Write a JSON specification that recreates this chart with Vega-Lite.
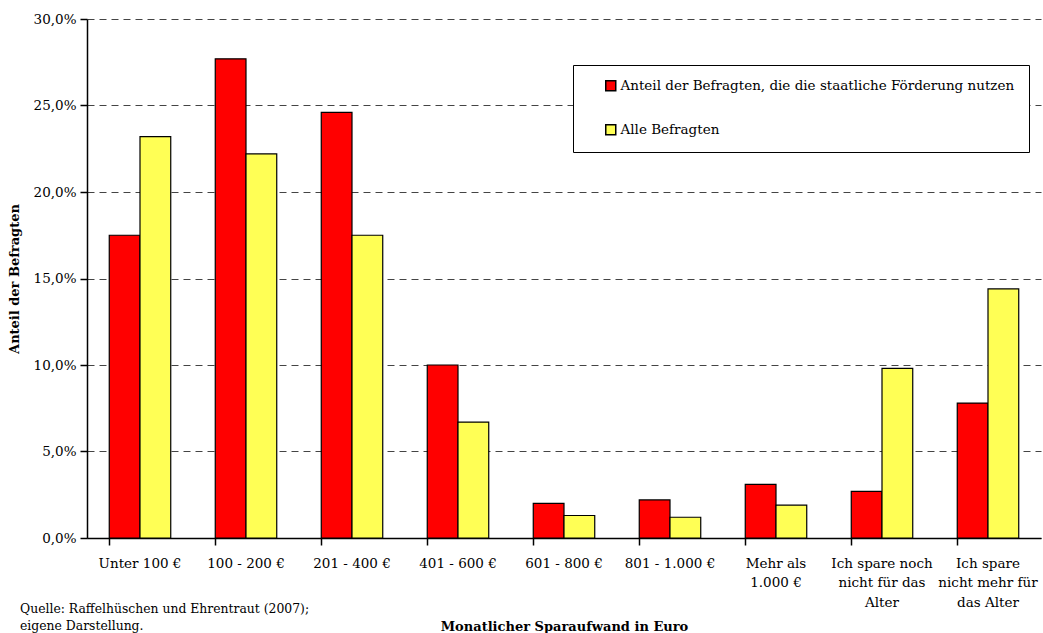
{
  "$schema": "https://vega.github.io/schema/vega-lite/v6.json",
  "autosize": {"type": "none"},
  "padding": {"left": 87, "top": 19, "right": 2, "bottom": 95},
  "width": 954,
  "height": 519,
  "background": "white",
  "config": {
    "locale": {"number": {"decimal": ",", "thousands": ".", "grouping": [3], "currency": ["", " €"]}},
    "font": "DejaVu Serif",
    "view": {"stroke": null}
  },
  "title": {
    "text": ["Quelle: Raffelhüschen und Ehrentraut (2007);", "eigene Darstellung."],
    "orient": "bottom",
    "anchor": "start",
    "frame": "group",
    "dx": -67,
    "offset": -31,
    "font": "DejaVu Serif",
    "fontSize": 12.4,
    "fontWeight": "normal",
    "color": "black",
    "lineHeight": 17
  },
  "data": {
    "values": [
      {"kategorie": "Unter 100 €", "gruppe": "Anteil der Befragten, die die staatliche Förderung nutzen", "anteil": 0.175},
      {"kategorie": "Unter 100 €", "gruppe": "Alle Befragten", "anteil": 0.232},
      {"kategorie": "100 - 200 €", "gruppe": "Anteil der Befragten, die die staatliche Förderung nutzen", "anteil": 0.277},
      {"kategorie": "100 - 200 €", "gruppe": "Alle Befragten", "anteil": 0.222},
      {"kategorie": "201 - 400 €", "gruppe": "Anteil der Befragten, die die staatliche Förderung nutzen", "anteil": 0.246},
      {"kategorie": "201 - 400 €", "gruppe": "Alle Befragten", "anteil": 0.175},
      {"kategorie": "401 - 600 €", "gruppe": "Anteil der Befragten, die die staatliche Förderung nutzen", "anteil": 0.100},
      {"kategorie": "401 - 600 €", "gruppe": "Alle Befragten", "anteil": 0.067},
      {"kategorie": "601 - 800 €", "gruppe": "Anteil der Befragten, die die staatliche Förderung nutzen", "anteil": 0.020},
      {"kategorie": "601 - 800 €", "gruppe": "Alle Befragten", "anteil": 0.013},
      {"kategorie": "801 - 1.000 €", "gruppe": "Anteil der Befragten, die die staatliche Förderung nutzen", "anteil": 0.022},
      {"kategorie": "801 - 1.000 €", "gruppe": "Alle Befragten", "anteil": 0.012},
      {"kategorie": "Mehr als|1.000 €", "gruppe": "Anteil der Befragten, die die staatliche Förderung nutzen", "anteil": 0.031},
      {"kategorie": "Mehr als|1.000 €", "gruppe": "Alle Befragten", "anteil": 0.019},
      {"kategorie": "Ich spare noch|nicht für das|Alter", "gruppe": "Anteil der Befragten, die die staatliche Förderung nutzen", "anteil": 0.027},
      {"kategorie": "Ich spare noch|nicht für das|Alter", "gruppe": "Alle Befragten", "anteil": 0.098},
      {"kategorie": "Ich spare|nicht mehr für|das Alter", "gruppe": "Anteil der Befragten, die die staatliche Förderung nutzen", "anteil": 0.078},
      {"kategorie": "Ich spare|nicht mehr für|das Alter", "gruppe": "Alle Befragten", "anteil": 0.144}
    ]
  },
  "mark": {"type": "bar", "stroke": "black", "strokeWidth": 1.2},
  "encoding": {
    "x": {
      "field": "kategorie",
      "type": "nominal",
      "sort": null,
      "scale": {"paddingInner": 0.42, "paddingOuter": 0.21},
      "axis": {
        "title": "Monatlicher Sparaufwand in Euro",
        "titleFont": "DejaVu Serif",
        "titleFontSize": 13,
        "titleFontWeight": "bold",
        "titleColor": "black",
        "titlePadding": 12,
        "labelAngle": 0,
        "labelExpr": "split(datum.label, '|')",
        "labelFont": "DejaVu Serif",
        "labelFontSize": 13.5,
        "labelColor": "black",
        "labelLineHeight": 19.5,
        "labelPadding": 11,
        "labelBaseline": "top",
        "labelLimit": 200,
        "bandPosition": 0,
        "domainColor": "black",
        "domainWidth": 1.5,
        "tickColor": "black",
        "tickWidth": 1.5,
        "tickSize": 7
      }
    },
    "xOffset": {
      "field": "gruppe",
      "type": "nominal",
      "sort": ["Anteil der Befragten, die die staatliche Förderung nutzen", "Alle Befragten"],
      "scale": {"paddingInner": 0, "paddingOuter": 0}
    },
    "y": {
      "field": "anteil",
      "type": "quantitative",
      "scale": {"domain": [0, 0.3], "nice": false},
      "axis": {
        "title": "Anteil der Befragten",
        "titleFont": "DejaVu Serif",
        "titleFontSize": 13,
        "titleFontWeight": "bold",
        "titleColor": "black",
        "titlePadding": 12,
        "format": ".1%",
        "values": [0, 0.05, 0.1, 0.15, 0.2, 0.25, 0.3],
        "labelFont": "DejaVu Serif",
        "labelFontSize": 13.5,
        "labelColor": "black",
        "labelPadding": 4,
        "domainColor": "black",
        "domainWidth": 1.5,
        "tickColor": "black",
        "tickWidth": 1.5,
        "tickSize": 7,
        "grid": true,
        "gridColor": "#444444",
        "gridDash": [7, 5],
        "gridWidth": 1
      }
    },
    "fill": {
      "field": "gruppe",
      "type": "nominal",
      "sort": ["Anteil der Befragten, die die staatliche Förderung nutzen", "Alle Befragten"],
      "scale": {
        "domain": ["Anteil der Befragten, die die staatliche Förderung nutzen", "Alle Befragten"],
        "range": ["#FF0000", "#FFFF55"]
      },
      "legend": {
        "title": null,
        "orient": "none",
        "legendX": 486,
        "legendY": 46,
        "direction": "vertical",
        "strokeColor": "black",
        "fillColor": "white",
        "padding": 14,
        "symbolOffset": 17,
        "symbolType": "square",
        "symbolSize": 100,
        "symbolStrokeColor": "black",
        "symbolStrokeWidth": 1.5,
        "labelFont": "DejaVu Serif",
        "labelFontSize": 13.5,
        "labelColor": "black",
        "labelOffset": 3,
        "labelLimit": 500,
        "rowPadding": 27
      }
    }
  }
}
